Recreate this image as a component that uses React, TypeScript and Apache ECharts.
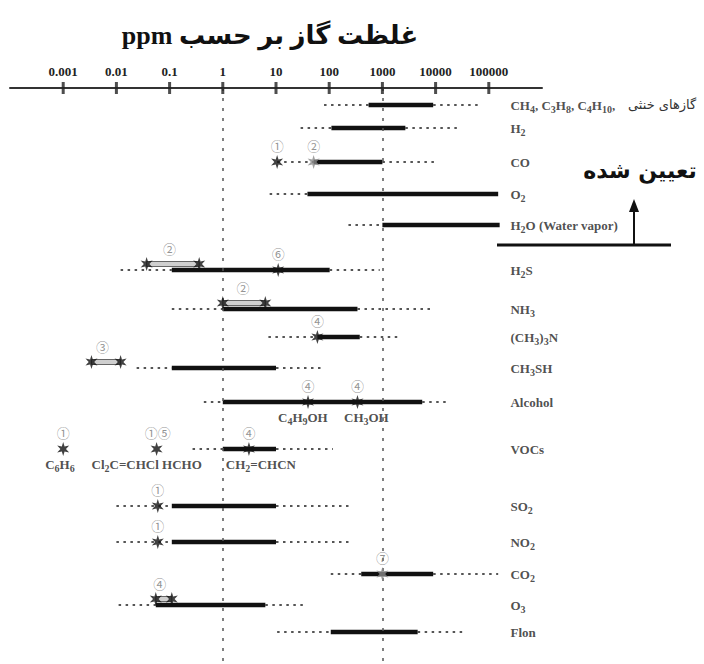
import React, { useEffect, useRef } from 'react';
import * as echarts from 'echarts';

// ---------- data ----------
const tickValues = [0.001, 0.01, 0.1, 1, 10, 100, 1000, 10000, 100000];
const tickLabels = ['0.001', '0.01', '0.1', '1', '10', '100', '1000', '10000', '100000'];
const referenceLines = [0.001, 1, 1000];

const gases = [
  'CH₄, C₃H₈, C₄H₁₀,', 'H₂', 'CO', 'O₂', 'H₂O (Water vapor)', 'H₂S', 'NH₃', '(CH₃)₃N',
  'CH₃SH', 'Alcohol', 'VOCs', 'SO₂', 'NO₂', 'CO₂', 'O₃', 'Flon',
];
const dottedLow = [80, 29, 10.5, 7.6, 230, 0.012, 0.11, 7.2, 0.024, 0.44, 0.27, 0.01, 0.01, 107, 0.011, 10.5];
const solidLow = [550, 110, 51, 39, 1000, 0.11, 1, 60, 0.11, 1, 1, 0.11, 0.11, 400, 0.055, 107];
const solidHigh = [9000, 2700, 1000, 150000, 160000, 102, 340, 375, 10, 5600, 10, 10, 10, 9000, 6.3, 4600];
const dottedHigh = [68000, 29000, 10000, 150000, 160000, 890, 9000, 1930, 80, 16000, 117, 280, 280, 150000, 35, 35000];

// grey (double-line) ranges
const grayLow = [0.037, 1, 0.0034, 0.055];
const grayHigh = [0.36, 6.3, 0.012, 0.11];
const grayRow = [5, 6, 8, 14];

// black star marks
const blackStarValue = [10.5, 0.037, 0.36, 11, 1, 6.3, 60, 0.0034, 0.012, 40, 340, 0.001, 0.057, 3.1, 0.06, 0.06, 0.055, 0.11];
const blackStarRow = [2, 5, 5, 5, 6, 6, 7, 8, 8, 9, 9, 10, 10, 10, 11, 12, 14, 14];
const blackStarRaised = [false, true, true, false, true, true, false, true, true, false, false, false, false, false, false, false, true, true];
// grey star marks
const grayStarValue = [51, 1000];
const grayStarRow = [2, 13];

// circled reference numbers
const noteValue = [10.5, 51, 0.1, 11, 2.4, 60, 0.0055, 40, 340, 0.001, 0.06, 3.1, 0.06, 0.06, 1000, 0.065];
const noteRow = [2, 2, 5, 5, 6, 7, 8, 9, 9, 10, 10, 10, 11, 12, 13, 14];
const noteText = ['①', '②', '②', '⑥', '②', '④', '③', '④', '④', '①', '①⑤', '④', '①', '①', '⑦', '④'];
const noteRaised = [false, false, true, false, true, false, true, false, false, false, false, false, false, false, false, true];

// compound names under marks
const compoundValue = [32, 500, 0.00087, 0.037, 5.2];
const compoundRow = [9, 9, 10, 10, 10];
const compoundText = ['C₄H₉OH', 'CH₃OH', 'C₆H₆', 'Cl₂C=CHCl HCHO', 'CH₂=CHCN'];

// ---------- layout ----------
const ROW_Y = [105, 128, 162, 194, 225, 270, 309, 337, 368, 402, 449, 506, 542, 574, 605, 632];
const AXIS_Y = 88;
const RAISE = 6;
const LABEL_X = 250000;
const STAR = 'path://M0,-10L2,-3.46L8.66,-5L4,0L8.66,5L2,3.46L0,10L-2,3.46L-8.66,5L-4,0L-8.66,-5L-2,-3.46Z';
const SERIF = '"Liberation Serif", "DejaVu Serif", serif';

// turn unicode subscript digits into rich-text subscript tokens
const toRich = (s: string) =>
  s
    .split(/([₀-₉]+)/)
    .filter((p) => p.length > 0)
    .map((p) =>
      /[₀-₉]/.test(p)
        ? '{s|' + Array.from(p).map((c) => String(c.charCodeAt(0) - 0x2080)).join('') + '}'
        : '{n|' + p + '}'
    )
    .join('');

const richStyles = {
  n: { fontFamily: SERIF, fontWeight: 'bold', fontSize: 13, lineHeight: 19, color: '#222', verticalAlign: 'middle' },
  s: { fontFamily: SERIF, fontWeight: 'bold', fontSize: 10, lineHeight: 10, color: '#222', verticalAlign: 'bottom' },
};

export default function App() {
  const ref = useRef<HTMLDivElement>(null);

  useEffect(() => {
    document.body.style.margin = '0';
    const chart = echarts.init(ref.current!, null, { renderer: 'svg' });

    const rangeData = gases.map((_, i) => [dottedLow[i], solidLow[i], solidHigh[i], dottedHigh[i], ROW_Y[i]]);
    const grayData = grayLow.map((v, i) => [v, grayHigh[i], ROW_Y[grayRow[i]] - RAISE]);
    const blackStars = blackStarValue.map((v, i) => [v, ROW_Y[blackStarRow[i]] - (blackStarRaised[i] ? RAISE : 0)]);
    const grayStars = grayStarValue.map((v, i) => [v, ROW_Y[grayStarRow[i]]]);
    const notes = noteValue.map((v, i) => [v, ROW_Y[noteRow[i]] - (noteRaised[i] ? 22 : 17), noteText[i]]);
    const compounds = compoundValue.map((v, i) => [v, ROW_Y[compoundRow[i]] + 15, compoundText[i]]);
    const names = gases.map((g, i) => [LABEL_X, ROW_Y[i], g]);

    const option: any = {
      animation: false,
      backgroundColor: '#ffffff',
      grid: { left: 10, right: 162, top: AXIS_Y, bottom: 0 },
      xAxis: {
        type: 'log',
        logBase: 10,
        min: 0.0001,
        max: 1000000,
        splitNumber: 10,
        position: 'top',
        axisLine: { show: true, onZero: false, lineStyle: { color: '#333', width: 2 } },
        axisTick: { show: false },
        splitLine: { show: false },
        axisLabel: {
          margin: 10,
          fontFamily: SERIF,
          fontWeight: 'bold',
          fontSize: 13,
          color: '#222',
          formatter: (v: number) => {
            const idx = tickValues.findIndex((t) => Math.abs(Math.log10(t) - Math.log10(v)) < 1e-6);
            return idx >= 0 ? tickLabels[idx] : '';
          },
        },
      },
      yAxis: { type: 'value', min: AXIS_Y, max: 664, inverse: true, show: false },
      series: [
        {
          type: 'scatter',
          name: 'ticks',
          data: tickValues.map((v) => [v, AXIS_Y]),
          symbol: 'rect',
          symbolSize: [3, 12],
          itemStyle: { color: '#222' },
          clip: false,
          z: 5,
          markLine: {
            silent: true,
            symbol: ['none', 'none'],
            label: { show: false },
            lineStyle: { color: '#555', width: 1.5, type: [3, 7] },
            data: referenceLines.map((v) => ({ xAxis: v })),
          },
        },
        {
          type: 'custom',
          name: 'ranges',
          data: rangeData,
          encode: { x: [0, 1, 2, 3], y: 4 },
          z: 3,
          renderItem: (params: any, api: any) => {
            const y = api.value(4);
            const p = [0, 1, 2, 3].map((i) => api.coord([api.value(i), y]));
            const seg = (a: number[], b: number[], style: any) => ({
              type: 'line',
              shape: { x1: a[0], y1: a[1], x2: b[0], y2: b[1] },
              style,
            });
            const dot = { stroke: '#555', lineWidth: 2, lineDash: [2.5, 4.5] };
            const solid = { stroke: '#111', lineWidth: 4.5 };
            const ch: any[] = [];
            if (p[1][0] - p[0][0] > 1) ch.push(seg(p[0], p[1], dot));
            if (p[3][0] - p[2][0] > 1) ch.push(seg(p[2], p[3], dot));
            ch.push(seg(p[1], p[2], solid));
            return { type: 'group', children: ch };
          },
        },
        {
          type: 'custom',
          name: 'grayRanges',
          data: grayData,
          encode: { x: [0, 1], y: 2 },
          z: 4,
          renderItem: (params: any, api: any) => {
            const a = api.coord([api.value(0), api.value(2)]);
            const b = api.coord([api.value(1), api.value(2)]);
            return {
              type: 'rect',
              shape: { x: a[0], y: a[1] - 2.5, width: b[0] - a[0], height: 5 },
              style: { fill: '#cfcfcf', stroke: '#666', lineWidth: 1 },
            };
          },
        },
        {
          type: 'scatter',
          name: 'stars',
          data: blackStars,
          symbol: STAR,
          symbolSize: [12, 14],
          itemStyle: { color: '#111' },
          clip: false,
          z: 6,
        },
        {
          type: 'scatter',
          name: 'grayStars',
          data: grayStars,
          symbol: STAR,
          symbolSize: [12, 14],
          itemStyle: { color: '#8a8a8a' },
          clip: false,
          z: 6,
        },
        {
          type: 'scatter',
          name: 'notes',
          data: notes,
          symbolSize: 1,
          itemStyle: { color: 'rgba(0,0,0,0)' },
          clip: false,
          z: 7,
          label: {
            show: true,
            position: 'inside',
            formatter: (p: any) => p.data[2],
            fontFamily: '"Noto Sans CJK JP", "DejaVu Sans"',
            fontSize: 13,
            color: '#777',
          },
        },
        {
          type: 'scatter',
          name: 'compounds',
          data: compounds,
          symbolSize: 1,
          itemStyle: { color: 'rgba(0,0,0,0)' },
          clip: false,
          z: 7,
          label: {
            show: true,
            position: 'inside',
            formatter: (p: any) => toRich(p.data[2]),
            rich: richStyles,
          },
        },
        {
          type: 'scatter',
          name: 'names',
          data: names,
          symbolSize: 1,
          itemStyle: { color: 'rgba(0,0,0,0)' },
          clip: false,
          z: 7,
          label: {
            show: true,
            position: 'right',
            distance: 0,
            formatter: (p: any) => toRich(p.data[2]),
            rich: richStyles,
          },
        },
      ],
      graphic: [
        {
          type: 'text',
          x: 270,
          y: 35,
          style: {
            text: 'ppm غلظت گاز بر حسب',
            fontFamily: '"Liberation Serif", "DejaVu Sans"',
            fontWeight: 'bold',
            fontSize: 26,
            fill: '#111',
            align: 'center',
            verticalAlign: 'middle',
          },
        },
        {
          type: 'text',
          x: 628,
          y: 104,
          style: {
            text: 'گازهای خنثی',
            fontFamily: '"DejaVu Sans"',
            fontSize: 13,
            fill: '#333',
            align: 'left',
            verticalAlign: 'middle',
          },
        },
        {
          type: 'text',
          x: 640,
          y: 170,
          style: {
            text: 'تعیین شده',
            fontFamily: '"DejaVu Sans"',
            fontWeight: 'bold',
            fontSize: 22,
            fill: '#111',
            align: 'center',
            verticalAlign: 'middle',
          },
        },
        {
          type: 'line',
          shape: { x1: 497, y1: 245, x2: 671, y2: 245 },
          style: { stroke: '#111', lineWidth: 3 },
        },
        {
          type: 'line',
          shape: { x1: 634, y1: 245, x2: 634, y2: 210 },
          style: { stroke: '#111', lineWidth: 2 },
        },
        {
          type: 'polygon',
          shape: { points: [[634, 199], [629, 212], [639, 212]] },
          style: { fill: '#111' },
        },
      ],
    };

    chart.setOption(option);
    return () => chart.dispose();
  }, []);

  return <div ref={ref} style={{ width: 704, height: 664 }} />;
}
